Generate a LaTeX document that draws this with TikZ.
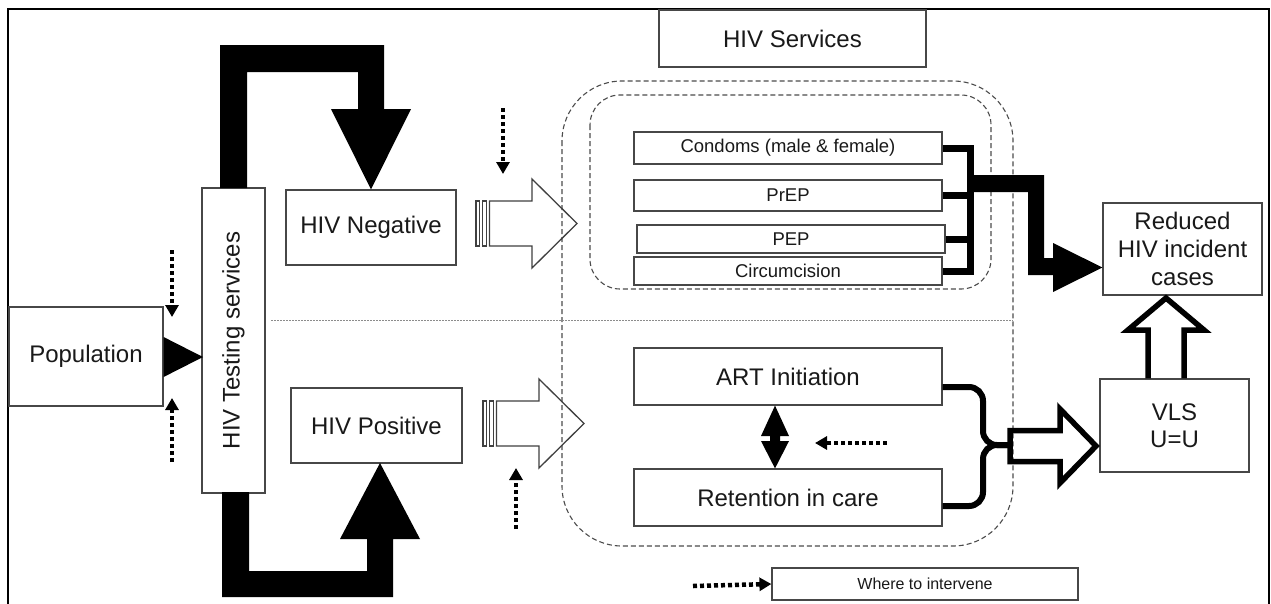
\documentclass[tikz,border=0pt]{standalone}
\usepackage{fontspec}
\setmainfont{Liberation Sans}
\usetikzlibrary{arrows.meta}
\newcommand\fsBig{\fontsize{24}{28}\selectfont}
\newcommand\fsMid{\fontsize{18.5}{21}\selectfont}
\newcommand\fsSml{\fontsize{16}{19}\selectfont}
\tikzset{
  box/.style={draw=black!72, line width=1.2pt, fill=white, inner sep=0pt, align=center, text=black!90},
  dotarr/.style={line width=4.5pt, dash pattern=on 4pt off 3pt, -{Triangle[length=12pt,width=13pt]}},
  dashbox/.style={draw=black!70, line width=1.1pt, dash pattern=on 5pt off 3pt},
  bus/.style={line width=7pt},
  hollowthick/.style={draw=black, line width=5.5pt, line join=miter},
  stripe/.style={draw=black!75, line width=1.3pt},
}
\begin{document}
\begin{tikzpicture}[x=1pt,y=-1pt]
\useasboundingbox (0,0) rectangle (1271,603);
\fill[white] (0,0) rectangle (1271,603);

% frame
\draw[line width=2.5pt] (8,620) -- (8,9) -- (1269,9) -- (1269,620);

% dashed containers and separator
\draw[dashbox, rounded corners=60pt] (562,81) rectangle (1013,546);
\draw[dashbox, rounded corners=30pt] (590,95) rectangle (991,289);
\draw[draw=black!45, line width=1pt, dash pattern=on 1.5pt off 1.5pt] (271,320) -- (1013,320);

% nodes
\node[box, minimum width=267pt, minimum height=57pt, font=\fsBig] (services) at (792.5,38.5) {HIV Services};
\node[box, minimum width=154pt, minimum height=99pt, font=\fsBig] (population) at (86,356.5) {Population};
\node[box, rotate=90, minimum width=305pt, minimum height=63pt, font=\fsBig] (testing) at (233.5,340.5) {HIV Testing services};
\node[box, minimum width=170pt, minimum height=75pt, font=\fsBig] (neg) at (371,227.5) {HIV Negative};
\node[box, minimum width=171pt, minimum height=75pt, font=\fsBig] (pos) at (376.5,425.5) {HIV Positive};
\node[box, minimum width=308pt, minimum height=32pt, font=\fsMid] (condoms) at (788,148) {Condoms (male \& female)};
\node[box, minimum width=308pt, minimum height=31pt, font=\fsMid] (prep) at (788,195.5) {PrEP};
\node[box, minimum width=308pt, minimum height=28pt, font=\fsMid] (pep) at (791,239) {PEP};
\node[box, minimum width=308pt, minimum height=28pt, font=\fsMid] (circ) at (788,271) {Circumcision};
\node[box, minimum width=308pt, minimum height=57pt, font=\fsBig] (art) at (788,376.5) {ART Initiation};
\node[box, minimum width=308pt, minimum height=57pt, font=\fsBig] (ret) at (788,497.5) {Retention in care};
\node[box, minimum width=159pt, minimum height=92pt, font=\fsBig] (reduced) at (1182.5,249) {Reduced\\HIV incident\\cases};
\node[box, minimum width=149pt, minimum height=93pt, font={\fontsize{24}{27}\selectfont}] (vls) at (1174.5,425.5) {VLS\\U=U};
\node[box, minimum width=306pt, minimum height=32pt, font=\fsSml] (legend) at (925,584) {Where to intervene};

% population -> testing triangle
\coordinate (popTip) at (203,357);
\fill (population.east |- 0,337) -- (popTip) -- (population.east |- 0,377) -- cycle;

% black L arrows
\fill (220,188) -- (220,45) -- (384,45) -- (384,109) -- (411,109) -- (neg.north) -- (331,109) -- (358,109) -- (358,72) -- (247,72) -- (247,188) -- cycle;
\fill (222,492) -- (222,597) -- (393,597) -- (393,539) -- (420,539) -- (380,463) -- (340,539) -- (367,539) -- (367,571) -- (249,571) -- (249,492) -- cycle;

% striped hollow arrows
\draw[stripe] (476,201) rectangle (479.5,246);
\draw[stripe] (482.5,201) rectangle (486.5,246);
\draw[stripe, line join=miter] (489.5,201) -- (532,201) -- (532,179) -- (577,223.5) -- (532,268) -- (532,246) -- (489.5,246) -- cycle;
\draw[stripe] (483,401) rectangle (486.5,446);
\draw[stripe] (489.5,401) rectangle (493.5,446);
\draw[stripe, line join=miter] (496.5,401) -- (539,401) -- (539,379) -- (584,423.5) -- (539,468) -- (539,446) -- (496.5,446) -- cycle;

% service bus
\coordinate (busx) at (970.5,0);
\draw[bus, line join=miter] (condoms.east) -| (busx |- circ.east) -- (circ.east);
\draw[bus] (prep.east) -- (busx |- prep.east);
\draw[bus] (pep.east) -- (busx |- pep.east);
\fill (974,175) -- (1044,175) -- (1044,258) -- (1053,258) -- (1053,243) -- (reduced.west |- 0,267.5) -- (1053,292) -- (1053,275) -- (1028,275) -- (1028,192) -- (974,192) -- cycle;

% double arrow between ART and retention
\fill (art.south -| 775,0) -- (789,436) -- (780,436) -- (780,441) -- (789,441) -- (ret.north -| 775,0) -- (761,441) -- (770,441) -- (770,436) -- (761,436) -- cycle;

% brace
\draw[line width=6pt, rounded corners=14pt] (art.east |- 0,387) -- (983,387) -- (983,445) -- (1010,445);
\draw[line width=6pt, rounded corners=14pt] (1010,445) -- (983,445) -- (983,506) -- (ret.east |- 0,506);

% hollow thick arrows
\draw[hollowthick] (1010,430.5) -- (1060,430.5) -- (1060,409) -- (1096,446) -- (1060,483) -- (1060,461.5) -- (1010,461.5) -- cycle;
\draw[hollowthick] (vls.north -| 1148,0) -- (1148,330) -- (1128,330) -- (1166,298) -- (1204,330) -- (1184,330) -- (vls.north -| 1184,0);

% dotted intervention arrows
\draw[dotarr] (172,250) -- (172,317);
\draw[dotarr] (172,462) -- (172,398);
\draw[dotarr] (503,108) -- (503,174);
\draw[dotarr] (516,529) -- (516,468);
\draw[dotarr] (887,443) -- (815,443);
\draw[dotarr] (693,586) -- (legend.west);
\end{tikzpicture}
\end{document}
